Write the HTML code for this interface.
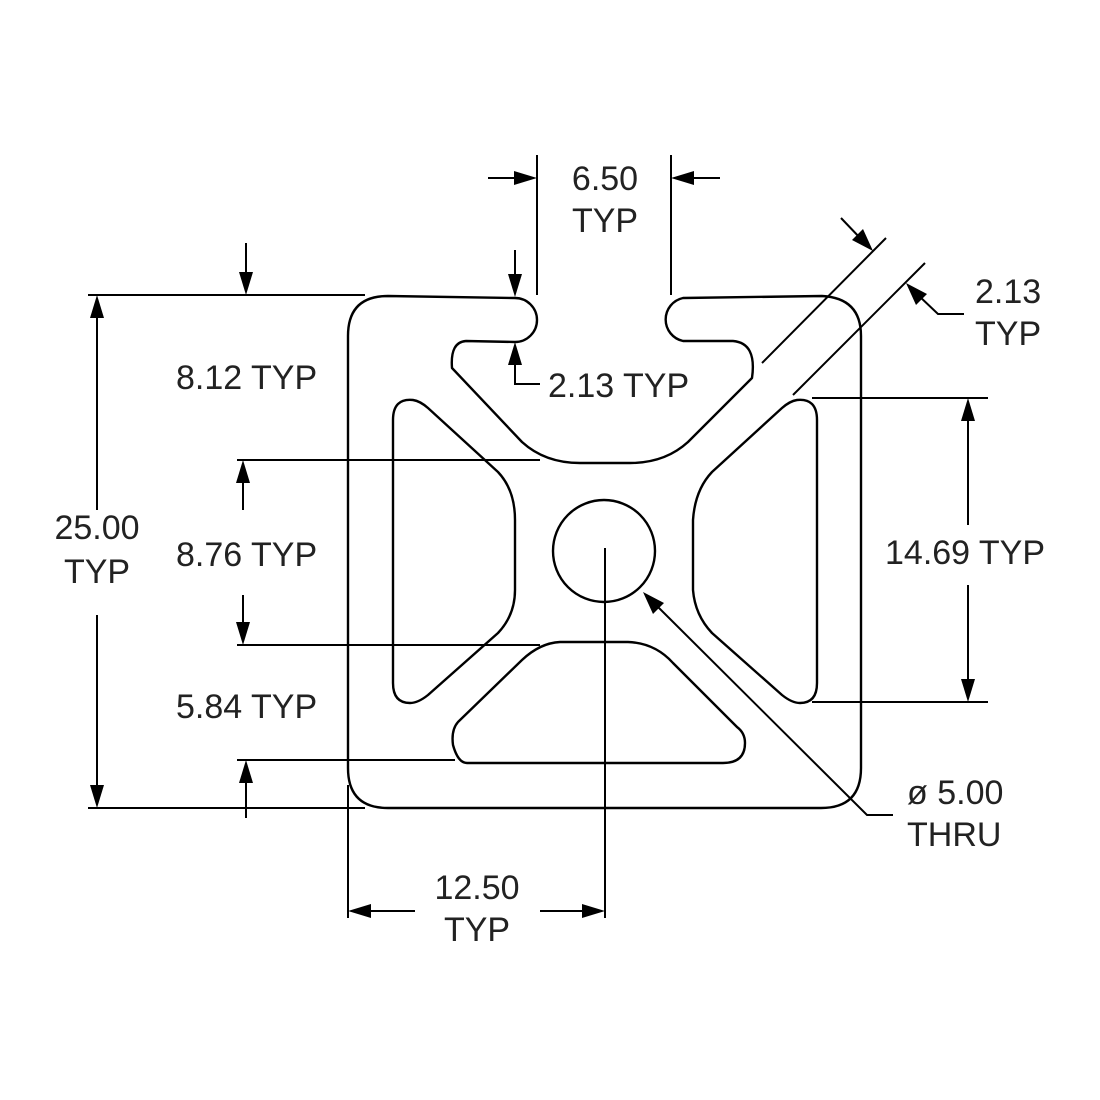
<!DOCTYPE html>
<html><head><style>
html,body{margin:0;padding:0;background:#fff;}
svg{display:block;}
text{font-family:"Liberation Sans",Arial,sans-serif;font-size:34px;fill:#222;}
</style></head><body>
<svg width="1100" height="1100" viewBox="0 0 1100 1100" xmlns="http://www.w3.org/2000/svg">
<g fill="none" stroke="#000" stroke-width="2.4" stroke-linejoin="round">
<path d="M388,296 L515,298 A22,22 0 0 1 515,342 L466,341 Q450,342 452,368 L522,442 Q545,463 580,463 L630,463 Q665,463 688,442 L752,378 Q757,343 733,341 L683,341 A22,22 0 0 1 683,298 L822,296 Q861,298 861,336 L861,768 Q861,808 821,808 L388,808 Q348,808 348,768 L348,336 Q348,296 388,296 Z"/>
<path d="M393,420 Q393,398 413,400 Q420,401 428,408 L498,472 Q515,490 515,520 L515,590 Q515,615 498,633 L428,695 Q418,703 410,703 Q393,703 393,683 Z"/>
<path d="M817,420 Q817,398 797,400 Q790,401 782,408 L712,472 Q695,490 693,520 L693,590 Q695,615 712,633 L782,695 Q792,703 800,703 Q817,703 817,683 Z"/>
<path d="M467,763 L723,763 Q745,763 745,743 Q745,733 737,727 L673,663 Q655,643 628,642 L560,642 Q540,643 522,660 L458,722 Q451,730 453,745 Q458,763 467,763 Z"/>
<circle cx="604" cy="551" r="51"/>
</g>
<g fill="none" stroke="#000" stroke-width="2">
<line x1="537" y1="155" x2="537" y2="295"/><line x1="671" y1="155" x2="671" y2="295"/>
<line x1="488" y1="178" x2="520" y2="178"/><line x1="688" y1="178" x2="720" y2="178"/>
<line x1="88" y1="295" x2="365" y2="295"/><line x1="88" y1="808" x2="365" y2="808"/>
<line x1="246" y1="243" x2="246" y2="278"/>
<line x1="97" y1="312" x2="97" y2="510"/><line x1="97" y1="615" x2="97" y2="792"/>
<line x1="237" y1="760" x2="455" y2="760"/><line x1="246" y1="776" x2="246" y2="818"/>
<line x1="515" y1="250" x2="515" y2="280"/>
<polyline points="515,358 515,384 540,384"/>
<line x1="237" y1="460" x2="540" y2="460"/><line x1="237" y1="645" x2="540" y2="645"/>
<line x1="243" y1="476" x2="243" y2="510"/><line x1="243" y1="595" x2="243" y2="629"/>
<line x1="812" y1="398" x2="988" y2="398"/><line x1="812" y1="702" x2="988" y2="702"/>
<line x1="968" y1="414" x2="968" y2="525"/><line x1="968" y1="585" x2="968" y2="686"/>
<line x1="762" y1="363" x2="886" y2="238"/><line x1="793" y1="395" x2="925" y2="263"/>
<line x1="841" y1="218" x2="862" y2="240"/>
<polyline points="918,295 938,314 964,314"/>
<polyline points="655,604 867,815 893,815"/>
<line x1="348" y1="785" x2="348" y2="918"/><line x1="605" y1="548" x2="605" y2="918"/>
<line x1="364" y1="911" x2="415" y2="911"/><line x1="540" y1="911" x2="589" y2="911"/>
</g>
<g fill="#000">
<polygon points="537,178 514,171 514,185"/>
<polygon points="671,178 694,171 694,185"/>
<polygon points="246,295 239,272 253,272"/>
<polygon points="97,295 90,318 104,318"/>
<polygon points="97,808 90,785 104,785"/>
<polygon points="246,760 239,783 253,783"/>
<polygon points="515,297 508,274 522,274"/>
<polygon points="515,342 508,365 522,365"/>
<polygon points="243,460 236,483 250,483"/>
<polygon points="243,645 236,622 250,622"/>
<polygon points="968,398 961,421 975,421"/>
<polygon points="968,702 961,679 975,679"/>
<polygon points="873,251 852,240 863,229"/>
<polygon points="906,283 927,294 916,305"/>
<polygon points="643,592 664,603 653,614"/>
<polygon points="348,911 371,904 371,918"/>
<polygon points="605,911 582,904 582,918"/>
</g>
<g>
<text x="605" y="190" text-anchor="middle">6.50</text>
<text x="605" y="232" text-anchor="middle">TYP</text>
<text x="176" y="389">8.12 TYP</text>
<text x="548" y="397">2.13 TYP</text>
<text x="97" y="539" text-anchor="middle">25.00</text>
<text x="97" y="583" text-anchor="middle">TYP</text>
<text x="176" y="566">8.76 TYP</text>
<text x="176" y="718">5.84 TYP</text>
<text x="885" y="564">14.69 TYP</text>
<text x="975" y="303">2.13</text>
<text x="975" y="345">TYP</text>
<text x="907" y="804">ø 5.00</text>
<text x="907" y="846">THRU</text>
<text x="477" y="899" text-anchor="middle">12.50</text>
<text x="477" y="941" text-anchor="middle">TYP</text>
</g>
</svg>
</body></html>
